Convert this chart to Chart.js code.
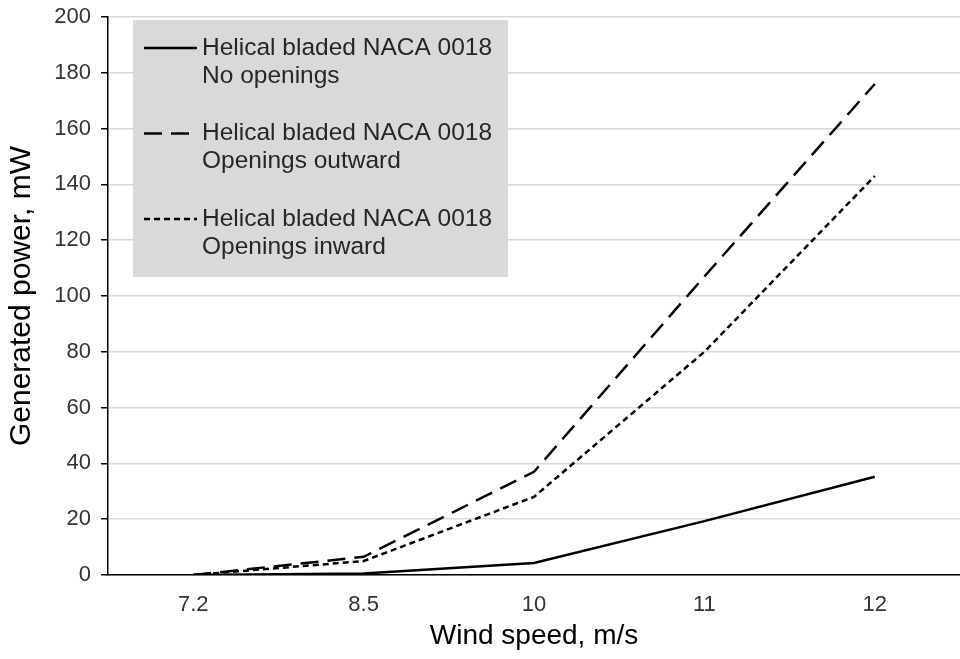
<!DOCTYPE html>
<html>
<head>
<meta charset="utf-8">
<script src="https://cdn.jsdelivr.net/npm/chart.js@4"></script>
<style>
  html, body { margin: 0; padding: 0; background: #fff; }
  #wrap { width: 960px; height: 659px; position: relative; }
</style>
</head>
<body>
<div id="wrap"><canvas id="powerChart"></canvas></div>
<script>
const windSpeeds = ['7.2', '8.5', '10', '11', '12']
const noOpenings = [0, 0.5, 4.3, 19.3, 35.2]
const openingsOutward = [0, 6.5, 37, 107, 176]
const openingsInward = [0, 5, 28, 80, 143]
const seriesLabels = [
  ['Helical bladed NACA 0018', 'No openings'],
  ['Helical bladed NACA 0018', 'Openings outward'],
  ['Helical bladed NACA 0018', 'Openings inward']
]

const FONT = "'Liberation Sans', Arial, sans-serif"

// legend drawn as a grey box inside the plot, like the original
const boxLegend = {
  id: 'boxLegend',
  afterDatasetsDraw(chart) {
    const { ctx, chartArea } = chart
    const x = chartArea.left + 25
    const y = chartArea.top + 3
    ctx.save()
    ctx.fillStyle = '#d9d9d9'
    ctx.fillRect(x, y, 375, 257)
    ctx.font = '24.5px ' + FONT
    ctx.textBaseline = 'middle'
    chart.data.datasets.forEach((ds, i) => {
      const cy = y + 28 + i * 85.5
      ctx.strokeStyle = '#000'
      ctx.lineWidth = 2.5
      ctx.setLineDash(ds.borderDash || [])
      ctx.beginPath()
      ctx.moveTo(x + 11, cy)
      ctx.lineTo(x + 64, cy)
      ctx.stroke()
      ctx.setLineDash([])
      ctx.fillStyle = '#262626'
      ds.label.forEach((line, j) => {
        ctx.fillText(line, x + 69, cy + j * 28)
      })
    })
    ctx.restore()
  }
}

const ctx = document.getElementById('powerChart').getContext('2d')

new Chart(ctx, {
  type: 'line',
  data: {
    labels: windSpeeds,
    datasets: [
      { label: seriesLabels[0], data: noOpenings, borderColor: '#000', borderWidth: 2.5, pointRadius: 0, tension: 0 },
      { label: seriesLabels[1], data: openingsOutward, borderColor: '#000', borderWidth: 2.5, borderDash: [18, 9], pointRadius: 0, tension: 0 },
      { label: seriesLabels[2], data: openingsInward, borderColor: '#000', borderWidth: 2.5, borderDash: [6, 4], pointRadius: 0, tension: 0 }
    ]
  },
  options: {
    responsive: true,
    maintainAspectRatio: false,
    animation: false,
    layout: { padding: { top: 0, right: 0, bottom: 0, left: 4 } },
    plugins: {
      legend: { display: false },
      tooltip: { enabled: false }
    },
    scales: {
      x: {
        offset: true,
        grid: { display: false, drawTicks: false },
        border: { display: true, color: '#000', width: 1.5 },
        ticks: { color: '#333', font: { family: FONT, size: 22 }, padding: 17 },
        title: { display: true, text: 'Wind speed, m/s', color: '#000', font: { family: FONT, size: 28 }, padding: { top: 2, bottom: 6 } },
        afterFit: scale => { scale.height = 84 }
      },
      y: {
        min: 0,
        max: 200,
        ticks: { stepSize: 20, color: '#333', font: { family: FONT, size: 22 }, padding: 10 },
        grid: { color: '#d9d9d9', lineWidth: 1.5, tickColor: '#000', tickLength: 7 },
        border: { display: true, color: '#000', width: 1.5 },
        title: { display: true, text: 'Generated power, mW', color: '#000', font: { family: FONT, size: 30 }, padding: { top: 0, bottom: 6 } },
        afterFit: scale => {
          scale.width = 104
          scale.paddingTop = 17
        }
      }
    }
  },
  plugins: [boxLegend]
})
</script>
</body>
</html>
